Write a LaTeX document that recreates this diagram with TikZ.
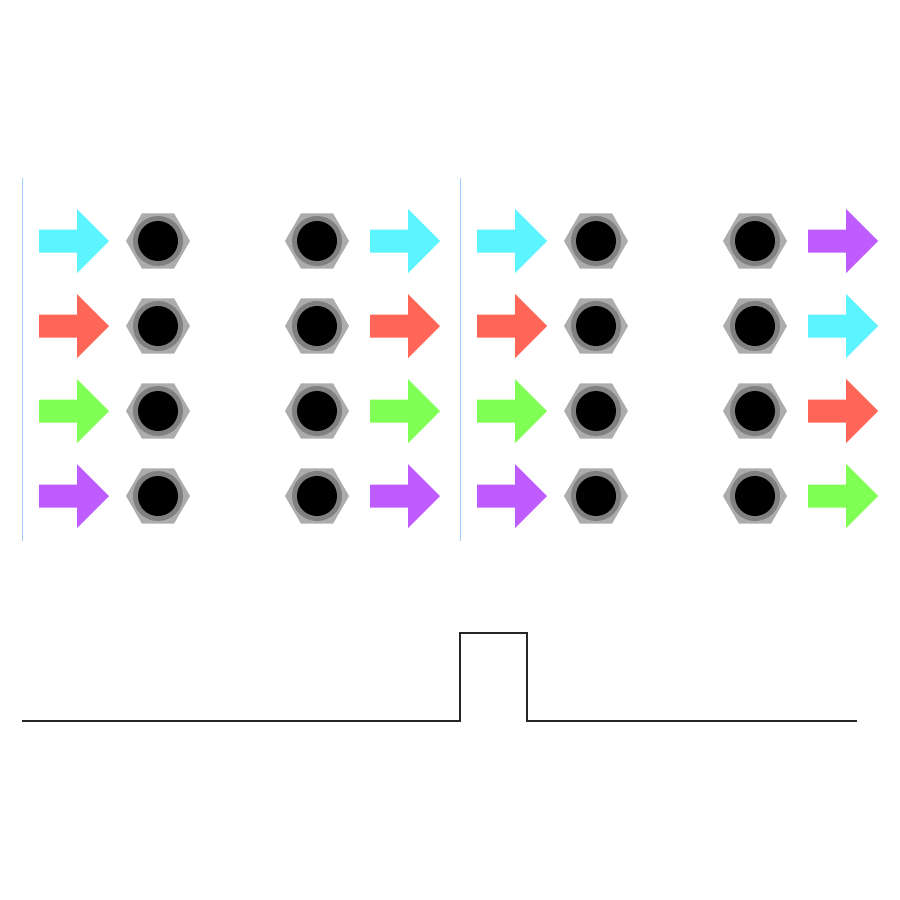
\documentclass[tikz,border=0pt]{standalone}
\usepackage{tikz}
\definecolor{flowcyan}{RGB}{92,245,255}
\definecolor{flowred}{RGB}{255,102,88}
\definecolor{flowgreen}{RGB}{128,255,85}
\definecolor{flowpurple}{RGB}{191,92,255}
\definecolor{nutlight}{RGB}{172,172,172}
\definecolor{nutdark}{RGB}{128,128,128}
\definecolor{panelline}{RGB}{160,208,255}
\tikzset{
  panel/.style={draw=panelline, line width=1pt},
  pulse/.style={draw=black!85, line width=1.4pt},
}

\begin{document}
\begin{tikzpicture}[x=1pt, y=-1pt]
    \useasboundingbox (0, 0) rectangle (900, 900);
    % panel edges
    \draw [panel] (22, 178) -- (22, 541);
    \draw [panel] (460, 178) -- (460, 541);
    % nuts
    \foreach \x in {158, 317, 596, 755}
      \foreach \y in {241, 326, 411, 496} {
        \fill [nutlight] (\x, \y) +(0:32) -- +(60:32) -- +(120:32) -- +(180:32) -- +(240:32) -- +(300:32) -- cycle;
        \fill [nutdark] (\x, \y) circle (25);
        \fill [black] (\x, \y) circle (20);
      }
    % arrows
    \foreach \x in {39, 370, 477}
      \foreach \c [count=\i from 0] in {flowcyan, flowred, flowgreen, flowpurple}
        \fill [\c] (\x, {241 + 85*\i}) ++(0, -11.5) -- ++(38, 0) -- ++(0, -20.5) -- ++(32, 32) -- ++(-32, 32) -- ++(0, -20.5) -- ++(-38, 0) -- cycle;
    \foreach \c [count=\i from 0] in {flowpurple, flowcyan, flowred, flowgreen}
      \fill [\c] (808, {241 + 85*\i}) ++(0, -11.5) -- ++(38, 0) -- ++(0, -20.5) -- ++(32, 32) -- ++(-32, 32) -- ++(0, -20.5) -- ++(-38, 0) -- cycle;
    % pulse
    \draw [pulse] (22, 721) -- (460, 721) -- (460, 633) -- (527, 633) -- (527, 721) -- (857, 721);
  \end{tikzpicture}
\end{document}
